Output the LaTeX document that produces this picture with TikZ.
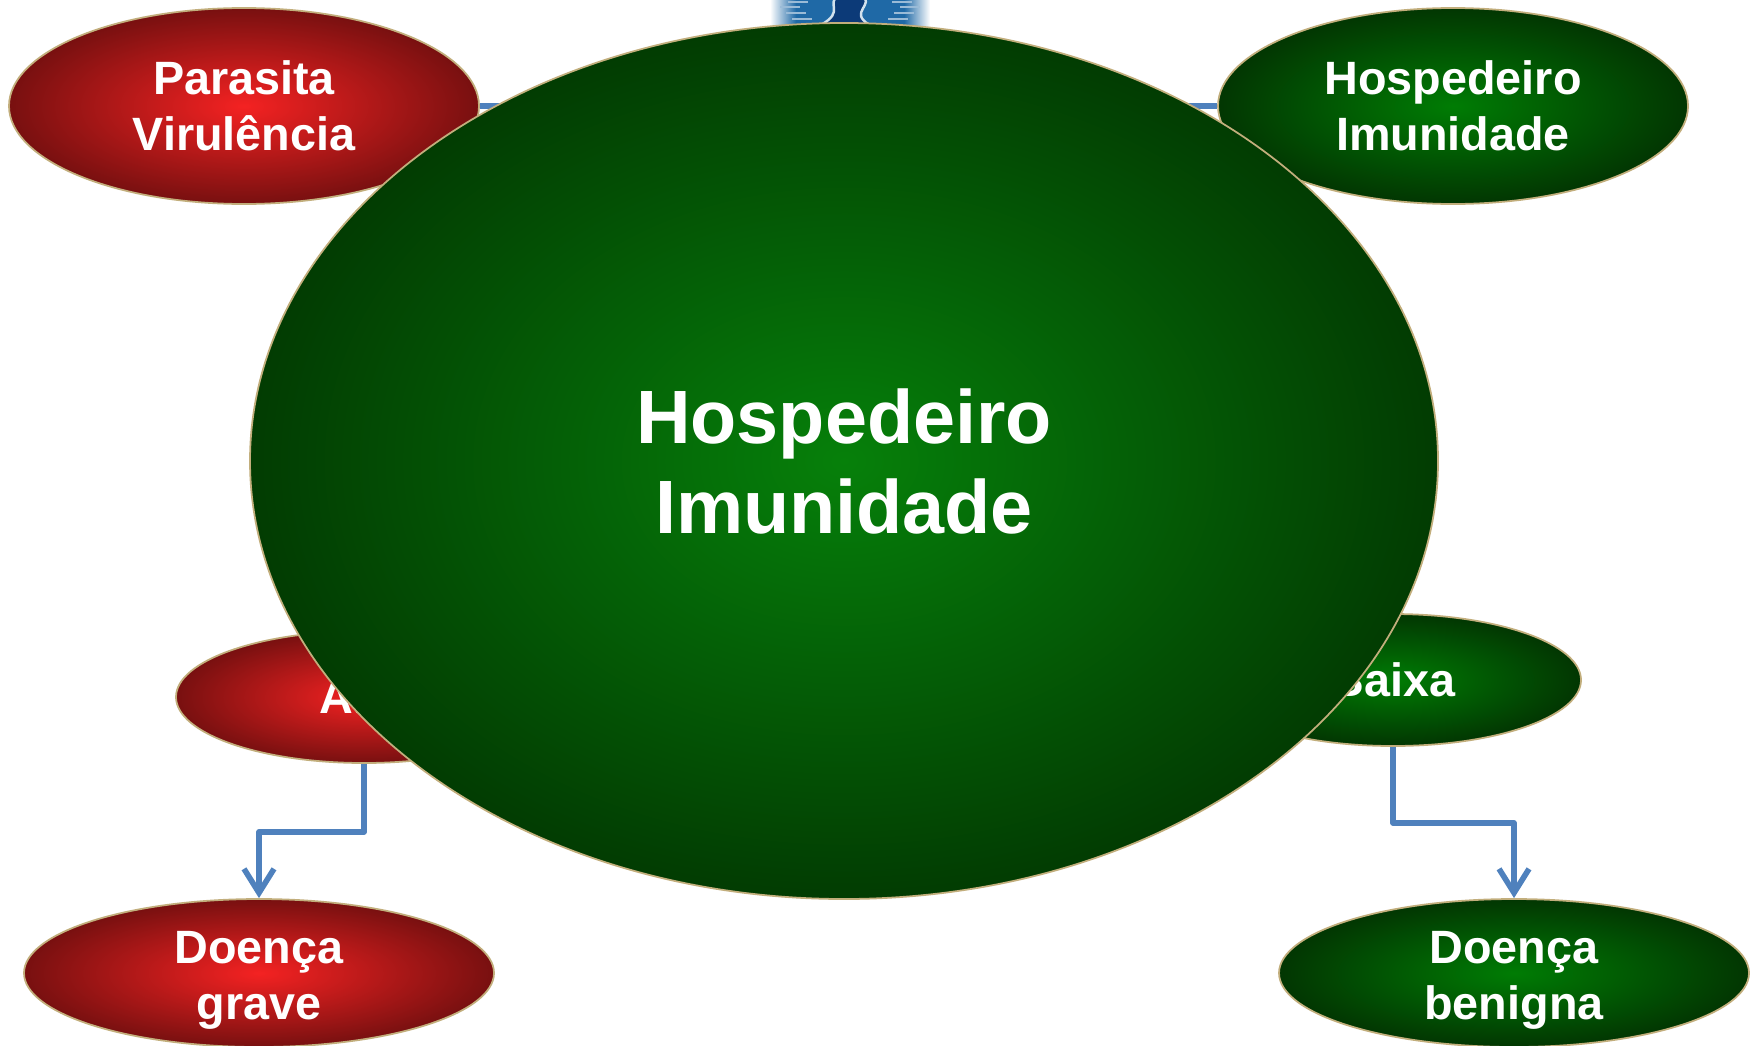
\documentclass[tikz,border=0pt]{standalone}
\usepackage{fontspec}
\setmainfont{Liberation Sans}
\usepackage{tikz}
\usetikzlibrary{arrows.meta,positioning,shapes.geometric}
\definecolor{redin}{HTML}{F42222}
\definecolor{redout}{HTML}{781010}
\definecolor{greenin}{HTML}{007C04}
\definecolor{greenout}{HTML}{023602}
\definecolor{bigin}{HTML}{06800A}
\definecolor{bigout}{HTML}{023C02}
\definecolor{rim}{HTML}{C2AE7C}
\definecolor{linkblue}{HTML}{4F81BD}
\definecolor{imgblue}{HTML}{1F69A6}
\definecolor{imgnavy}{HTML}{0C3A78}
\tikzset{
  bubble/.style={ellipse, draw=rim, line width=.5pt, text=white, align=center, inner sep=0pt,
    font=\bfseries\fontsize{13.3}{16}\selectfont},
  redb/.style={bubble, inner color=redin, outer color=redout},
  greenb/.style={bubble, inner color=greenin, outer color=greenout},
  big/.style={bubble, minimum width=4.7cm, minimum height=1.96cm},
  small/.style={bubble, minimum width=3.76cm, minimum height=1.32cm},
  low/.style={bubble, minimum width=4.7cm, minimum height=1.48cm,
    label={[text=white, align=center, font=\bfseries\fontsize{13.3}{16}\selectfont, yshift=-0.07cm]center:#1}},
  link/.style={draw=linkblue, line width=1.6pt, line join=round},
  arr/.style={link, -{Straight Barb[length=2.4mm, width=3mm]}},
}

\begin{document}
\begin{tikzpicture}
  \useasboundingbox (0,0) rectangle (17.62,-10.45);

  % picture peeking out above the centre
  \fill[imgblue] (7.95,0) rectangle (9.05,-0.45);
  \shade[left color=white, right color=imgblue] (7.70,0) rectangle (7.96,-0.45);
  \shade[left color=imgblue, right color=white] (9.04,0) rectangle (9.30,-0.45);
  \fill[imgnavy, draw=white!80!imgblue, line width=.7pt]
    (8.35,0.02) .. controls (8.29,-0.08) and (8.46,-0.15) .. (8.10,-0.30)
    -- (8.80,-0.30) .. controls (8.44,-0.15) and (8.71,-0.08) .. (8.65,0.02);
  \foreach \x/\y in {7.88/-0.02, 7.80/-0.07, 7.86/-0.13, 7.92/-0.19} {
    \draw[imgblue!45!white, line width=.5pt] (\x,\y) -- ++(0.20,0);
    \draw[imgblue!45!white, line width=.5pt] (17.00-\x,\y) -- ++(-0.20,0);
  }

  % outer nodes
  \node[redb, big] (pv) at (2.44,-1.06) {Parasita\\Virulência};
  \node[greenb, big] (hi) at (14.53,-1.06) {Hospedeiro\\Imunidade};
  \node[redb, small] (alta) at (3.64,-6.97) {Alta};
  \node[greenb, small] (baixa) at (13.93,-6.80) {Baixa};
  \node[redb, low={Doença\\grave}] (grave) at (2.59,-9.73) {};
  \node[greenb, low={Doença\\benigna}] (benigna) at (15.14,-9.73) {};

  % connectors
  \draw[link, line width=1.8pt] (pv.east) -- (hi.west);
  \draw[arr] (alta.south) -- ++(0,-0.68) -| (grave.north);
  \draw[arr] (baixa.south) -- ++(0,-0.76) -| (benigna.north);

  % central node on top
  \node[bubble, inner color=bigin, outer color=bigout, minimum width=11.88cm, minimum height=8.76cm,
    font=\bfseries\fontsize{21.5}{25.6}\selectfont] (hb) at (8.44,-4.61) {Hospedeiro\\Imunidade};
\end{tikzpicture}
\end{document}
